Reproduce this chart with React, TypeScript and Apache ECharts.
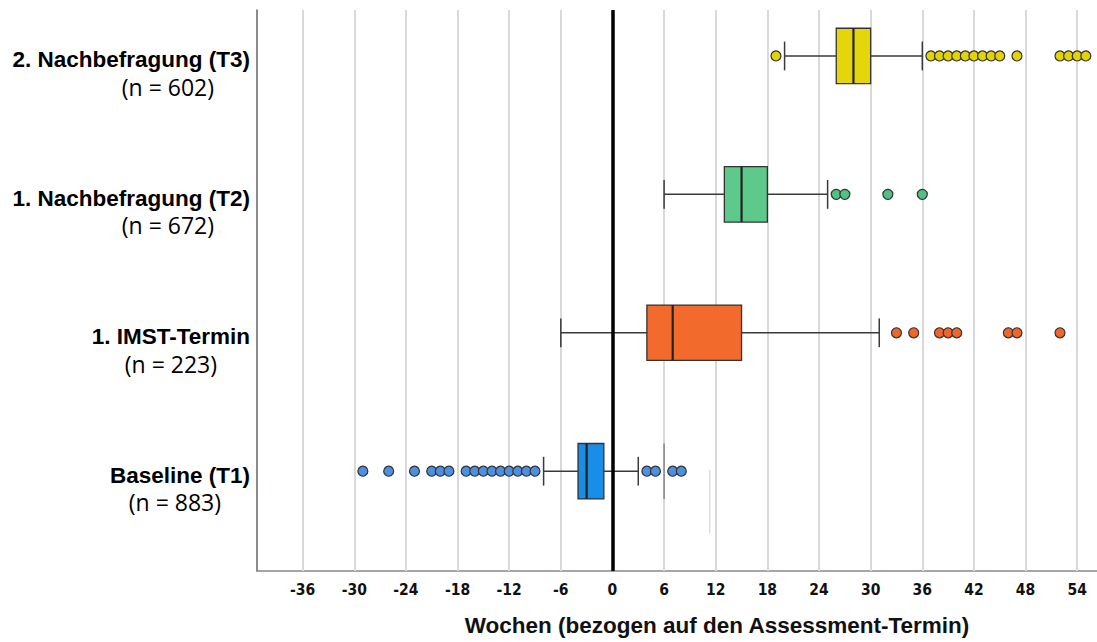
import React, { useEffect, useRef } from "react";
import * as echarts from "echarts";

// ---- data ----
const categories = ["Baseline (T1)", "1. IMST-Termin", "1. Nachbefragung (T2)", "2. Nachbefragung (T3)"];
const sampleSizes = ["(n = 883)", "(n = 223)", "(n = 672)", "(n = 602)"];
// [whisker low, Q1, median, Q3, whisker high]
const statsBaseline = [-8, -4, -3, -1, 3];
const statsImst = [-6, 4, 7, 15, 31];
const statsT2 = [6, 13, 15, 18, 25];
const statsT3 = [20, 26, 28, 30, 36];
const outliersBaseline = [-29, -26, -23, -21, -20, -19, -17, -16, -15, -14, -13, -12, -11, -10, -9, 4, 5, 7, 8];
const outliersImst = [33, 35, 38, 39, 40, 46, 47, 52];
const outliersT2 = [26, 27, 32, 36];
const outliersT3 = [19, 37, 38, 39, 40, 41, 42, 43, 44, 45, 47, 52, 53, 54, 55];
const xTicks = [-36, -30, -24, -18, -12, -6, 0, 6, 12, 18, 24, 30, 36, 42, 48, 54];
// stray vertical strokes visible in the source: [x, yFrom, yTo]
const strayDark = [[6, 0.2, -0.2]];
const strayFaint = [[11.3, 0.01, -0.45]];

// ---- styles ----
const boxColors = ["#1A8DE6", "#F26A2C", "#5DC98A", "#E5D60C"];
const outlierColors = ["#4D8FE0", "#F0662A", "#4FC182", "#E3D300"];
const labelRightPad = [29, 33, 36, 36];

export default function App() {
  const ref = useRef<HTMLDivElement>(null);
  useEffect(() => {
    const chart = echarts.init(ref.current!, null, { renderer: "svg" });
    const allStats = [statsBaseline, statsImst, statsT2, statsT3];
    const allOutliers = [outliersBaseline, outliersImst, outliersT2, outliersT3];

    const rich: any = {
      a: { fontFamily: "Liberation Sans", fontWeight: "bold", fontSize: 22.5, lineHeight: 8, color: "#000" },
    };
    labelRightPad.forEach((p, i) => {
      rich["b" + i] = { fontFamily: "Open Sans", fontSize: 23, lineHeight: 46, color: "#000", padding: [0, p, 0, 0] };
    });

    const strayRender = (color: string, width: number) => (params: any, api: any) => {
      const p1 = api.coord([api.value(0), api.value(1)]);
      const p2 = api.coord([api.value(0), api.value(2)]);
      return { type: "line", shape: { x1: p1[0], y1: p1[1], x2: p2[0], y2: p2[1] }, style: { stroke: color, lineWidth: width } };
    };

    const option: any = {
      animation: false,
      grid: { left: 257, right: 0, top: 10, bottom: 67, containLabel: false },
      xAxis: {
        type: "value",
        min: -41.3,
        max: 56.3,
        axisLine: { show: true, onZero: false, lineStyle: { color: "#888", width: 1.5 } },
        axisTick: { show: false },
        splitLine: { show: false },
        axisLabel: {
          customValues: xTicks,
          margin: 11,
          fontFamily: "DejaVu Sans Condensed, Liberation Sans, sans-serif",
          fontWeight: "bold",
          fontSize: 15.5,
          color: "#111",
          formatter: (v: number) => String(v),
        },
        name: "Wochen (bezogen auf den Assessment-Termin)",
        nameLocation: "middle",
        nameGap: 43,
        nameTextStyle: { fontFamily: "Liberation Sans", fontWeight: "bold", fontSize: 22.5, color: "#111", padding: [0, 0, 0, 80] },
      },
      yAxis: {
        type: "value",
        min: -0.721,
        max: 3.332,
        axisLine: { show: true, onZero: false, lineStyle: { color: "#777", width: 1.7 } },
        axisTick: { show: false },
        splitLine: { show: false },
        axisLabel: {
          customValues: [0, 1, 2, 3],
          margin: 7,
          verticalAlign: "top",
          formatter: (v: number) => {
            const i = Math.round(v);
            return `{a|${categories[i]}}\n{b${i}|${sampleSizes[i]}}`;
          },
          rich,
        },
      },
      series: [
        {
          type: "custom",
          name: "boxes",
          z: 2,
          encode: { x: [1, 2, 3, 4, 5], y: 0 },
          data: allStats.map((s, i) => [i, ...s]),
          renderItem: (params: any, api: any) => {
            const cat = api.value(0);
            const lo = api.coord([api.value(1), cat]);
            const q1 = api.coord([api.value(2), cat]);
            const med = api.coord([api.value(3), cat]);
            const q3 = api.coord([api.value(4), cat]);
            const hi = api.coord([api.value(5), cat]);
            const y = lo[1];
            const bh = api.size([0, 0.4])[1];
            const ch = bh * 0.52;
            const ws = { stroke: "#3a3a3a", lineWidth: 1.5 };
            return {
              type: "group",
              children: [
                { type: "line", shape: { x1: lo[0], y1: y, x2: q1[0], y2: y }, style: ws },
                { type: "line", shape: { x1: q3[0], y1: y, x2: hi[0], y2: y }, style: ws },
                { type: "line", shape: { x1: lo[0], y1: y - ch / 2, x2: lo[0], y2: y + ch / 2 }, style: ws },
                { type: "line", shape: { x1: hi[0], y1: y - ch / 2, x2: hi[0], y2: y + ch / 2 }, style: ws },
                {
                  type: "rect",
                  shape: { x: q1[0], y: y - bh / 2, width: q3[0] - q1[0], height: bh },
                  style: { fill: boxColors[params.dataIndex], stroke: "#333", lineWidth: 1.3 },
                },
                { type: "line", shape: { x1: med[0], y1: y - bh / 2, x2: med[0], y2: y + bh / 2 }, style: { stroke: "#222", lineWidth: 2.2 } },
              ],
            };
          },
          markLine: {
            silent: true,
            z: 1,
            symbol: "none",
            label: { show: false },
            lineStyle: { color: "#d9d9d9", width: 2, type: "solid" },
            data: xTicks.filter((v) => v !== 0).map((v) => ({ xAxis: v })),
          },
        },
        {
          type: "custom",
          name: "strayDark",
          z: 1,
          encode: { x: 0, y: [1, 2] },
          data: strayDark,
          renderItem: strayRender("#888", 1.5),
        },
        {
          type: "custom",
          name: "strayFaint",
          z: 1,
          encode: { x: 0, y: [1, 2] },
          data: strayFaint,
          renderItem: strayRender("#dedede", 1.5),
        },
        {
          type: "line",
          name: "zero",
          data: [],
          markLine: {
            silent: true,
            z: 3,
            symbol: "none",
            label: { show: false },
            lineStyle: { color: "#000", width: 3.5, type: "solid" },
            data: [{ xAxis: 0 }],
          },
        },
        ...allOutliers.map((arr, i) => ({
          type: "scatter",
          z: 4,
          symbol: "circle",
          symbolSize: 10,
          data: arr.map((v) => [v, i]),
          itemStyle: { color: outlierColors[i], borderColor: "#333", borderWidth: 1.2, opacity: 1 },
        })),
      ],
    };
    chart.setOption(option);
    return () => chart.dispose();
  }, []);
  return <div ref={ref} style={{ position: "absolute", left: 0, top: 0, width: 1097, height: 642 }} />;
}
